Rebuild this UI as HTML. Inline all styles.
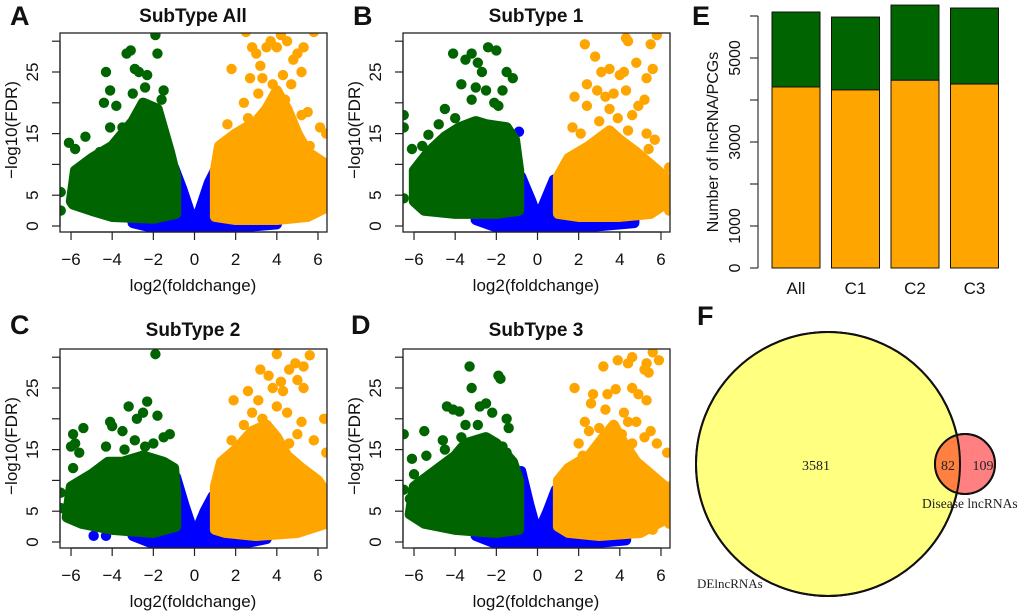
<!DOCTYPE html>
<html><head><meta charset="utf-8"><style>
body{margin:0;background:#fff}
svg{display:block;font-family:"Liberation Sans",Arial,sans-serif}
</style></head><body>
<svg id="fig" width="1020" height="616" viewBox="0 0 1020 616">
<defs id="defs"></defs>
</svg>
<script>
// ---------- Volcano data (log2FC, -log10FDR) ----------
const titles = ["SubType All","SubType 1","SubType 2","SubType 3"];
const letters = ["A","B","C","D"];
const xTicks = [-6,-4,-2,0,2,4,6];
const yTicks = [0,5,10,15,20,25,30];
const yTickLabels = ["0","5","","15","","25",""];

const blueHullA = [[-3,0.5],[-1,1],[-1,9.5],[-0.6,6],[-0.2,2],[0,0.6],[0.2,2],[0.7,7],[1,9],[1.1,2],[3,1],[4,1.5],[4,0.3],[2,-0.3],[-2,-0.3]];
const greenHullA = [[-6,4],[-5.8,9],[-5,11],[-4,13],[-3,17],[-2.5,20],[-1.8,19],[-1.2,12],[-0.9,8],[-0.9,2],[-2,1.2],[-4,1.5],[-5,2.5],[-5.9,3.5]];
const orangeHullA = [[1,1.5],[1,9],[1.2,13],[2,15],[3,17],[3.5,19],[4,22],[4.5,19],[5,15],[5.5,12],[6.4,10],[6.4,3],[5.5,1.5],[4,1],[2,1]];
const greenPtsA = [[-6.5,2.5],[-6.5,5.5],[-6.1,13.5],[-5.3,14.5],[-5.8,12.5],[-4.3,25],[-4.1,22],[-4.4,20],[-3.8,19.5],[-3.3,28],[-3.1,28.5],[-2.9,25.5],[-2.7,25],[-2.3,24.5],[-2.4,22.5],[-1.9,31],[-1.8,28],[-1.5,22],[-1.6,20.5],[-3,21.5],[-3.5,16],[-4.1,16],[-4.6,12],[-3.6,14.5],[-2.2,19.5]];
const orangePtsA = [[1.8,25.5],[2.4,20],[2.8,29],[3,28],[3.2,26],[3.5,29],[3.7,30],[4,29],[4.2,31],[4.5,30],[4.8,27],[5,28],[5.2,25],[5.3,29],[2.7,24],[3.3,24],[3.8,23],[4.3,24.5],[4.7,23],[5.5,18.5],[5.2,18],[6.1,16],[6.4,15],[5.6,13],[1.6,16.5],[2.1,14.5],[6.4,9],[6.5,7],[2.5,31.5],[5.8,31.5],[2.9,1.5],[3.8,1.5],[2.6,17.5],[4.4,20.5],[3.1,21.5]];
const bluePtsA = [];

const blueHullB = [[-3,1],[-1,1.5],[-0.8,8],[-0.3,4],[0,1.2],[0.3,3.5],[0.8,7.5],[1.2,8],[1.2,2],[3,1],[4.7,1.5],[4.7,0.5],[2,-0.3],[-2,-0.2]];
const greenHullB = [[-6,4],[-6,9],[-5.3,12],[-4.5,14.5],[-3.8,16],[-3,17],[-2.5,16.5],[-1.5,16],[-1.1,14],[-0.9,9],[-0.9,2.5],[-2,2],[-4,2],[-5.5,2.5]];
const orangeHullB = [[1,2],[1,8],[1.5,11],[2.5,13],[3.5,15.5],[4,14],[4.8,12],[5.5,10],[6.2,8],[6.4,4],[5.5,2],[4,1.5],[2,1.5]];
const greenPtsB = [[-6.5,18],[-6.5,16],[-6.5,4.5],[-6.1,12.5],[-5.6,13],[-5.3,14.8],[-4.8,16.5],[-4.5,19],[-4.1,28],[-3.7,23],[-3.5,27],[-3.2,28],[-2.9,26.5],[-2.7,25],[-2.4,29],[-2,28.5],[-1.5,25],[-1.2,24],[-1.7,22],[-2.5,22],[-3,22.5],[-3.2,20.5],[-2.1,20],[-1.9,19.5],[-4,17.5],[-3.4,15]];
const orangePtsB = [[2.3,29.5],[2.8,27.5],[3.1,25],[3.5,25.5],[4,24.5],[4.2,25],[4.4,30],[4.8,26.5],[5.3,24],[5.6,25.5],[5.5,29.5],[5.8,31],[2.4,23],[2.9,22],[1.8,21],[2.4,19.5],[3.3,21],[3.7,21.5],[3.5,19],[4.3,22],[4.9,19.5],[5.2,20.5],[4.6,18],[5.3,15],[5.7,14],[5.4,12.5],[6.4,9.5],[6.2,7],[6,5],[6.4,2.5],[1.7,16],[2.1,15],[3,17],[4.3,30.5],[3.9,17.5],[4.4,15.5]];
const bluePtsB = [[-0.9,15.3]];

const blueHullC = [[-3,1],[-1,1.5],[-0.9,10.5],[-0.5,6],[0,1],[0.5,5],[0.9,7.5],[1.1,6],[1.1,2],[3,1],[3.5,0.5],[2,-0.5],[-2,-0.3]];
const greenHullC = [[-6.2,4],[-6,9],[-5,11],[-4.2,13],[-3.5,13],[-2.5,14],[-1.5,13],[-1,12],[-0.9,8],[-0.9,2.5],[-2,1.5],[-4,2],[-5.5,3]];
const orangeHullC = [[1,2],[1,9],[1.3,13],[2,15],[2.8,18],[3.5,19],[4,17],[4.5,14],[5.2,12],[6,10],[6.4,8],[6.4,3],[5,1.5],[3,1],[1.5,1.5]];
const greenPtsC = [[-1.9,30.5],[-3.2,22],[-2.3,22.8],[-2.5,21],[-2.8,20],[-1.8,20.5],[-4.1,19.5],[-4,18.8],[-3.5,18],[-5.4,18.5],[-5.9,17.5],[-5.8,16],[-6,15.5],[-5.6,14.5],[-5.9,12],[-4.3,15.5],[-1.5,17],[-1.2,17.5],[-2,16],[-2.9,16.5],[-6.5,8],[-6.5,5.5],[-3.4,15],[-2.4,15.5]];
const orangePtsC = [[4,30.5],[5.6,30.3],[3.2,28],[3.6,27],[4.2,26],[4.6,28],[5.3,28.5],[4.9,29],[5,26.3],[5.3,25],[4.3,24.5],[3.8,25],[3.1,23],[2.6,24.5],[1.9,23],[2.4,19],[4,22],[4.5,21],[5.2,19.5],[6.3,20],[5,17.5],[5.8,16.5],[6.4,14.5],[1.8,16.5],[2.1,15.5],[6.4,7],[5.7,3],[6.2,5],[2.8,21],[4.6,16],[3.3,20]];
const bluePtsC = [[-4.9,1],[-4.3,1]];

const blueHullD = [[-3,1],[-1,1.5],[-0.8,11.5],[-0.4,6],[0,1.2],[0.5,5],[0.9,8.5],[1.2,8],[1.2,2],[3,1],[4.3,0.8],[4.3,0.3],[2,-0.4],[-2,-0.3]];
const greenHullD = [[-6.2,4.5],[-6,9],[-5,11.5],[-4,14],[-3.5,16],[-2.5,17],[-2,16],[-1.2,13],[-0.9,10],[-0.9,2],[-2,1.5],[-4,2],[-5.5,3]];
const orangeHullD = [[1,2.5],[1,10],[1.5,12],[2.5,14],[3.2,17],[3.7,19],[4.2,16],[4.8,13],[5.5,11],[6.2,9],[6.4,4],[5,1.5],[3,1],[1.5,1.5]];
const greenPtsD = [[-6.5,17.5],[-6.5,8.5],[-6.2,7],[-6.1,13.5],[-6,11],[-5.5,18],[-5.4,14],[-4.6,16.5],[-4.4,22],[-4.1,21.5],[-3.8,21.2],[-3.3,28.5],[-3.2,25],[-2.8,22],[-2.5,22.5],[-1.9,27],[-1.8,26.5],[-2.2,21],[-1.5,20],[-1.4,18.5],[-2.9,19],[-3.5,19],[-1.7,15.5],[-3.7,17],[-6,4.5],[-4.5,15],[-1.5,14.5]];
const orangePtsD = [[1.8,25],[3.2,28.5],[3.9,29.5],[4.4,29],[4.6,30],[5.3,29],[5.6,30.8],[5.9,29.5],[5.2,28],[5.4,27.5],[4.6,25],[4.9,24],[5.3,23],[3.4,24],[3.8,24.8],[2.7,24],[2.6,22.5],[3.3,21.5],[4.2,21],[4.4,19.5],[3,18.5],[2.3,19.5],[2.5,18],[4.8,19.5],[5.5,18],[5.2,17],[4.6,16],[5.8,16],[6.3,14.5],[6.4,9],[6.2,6],[6.4,3],[5.6,2],[2,16],[2.2,14],[4.1,17.5]];
const bluePtsD = [[4.2,0.6]];

// ---------- Bar data ----------
const barCats = ["All","C1","C2","C3"];
const upCounts = [4310,4240,4470,4380];      // orange
const totalCounts = [6095,5975,6260,6190];    // orange+green
const barTicks = [0,1000,2000,3000,4000,5000,6000];
const barTickLabels = ["0","1000","","3000","","5000",""];

// ---------- Venn data ----------
const vennLabels = ["3581","82","109"];
const vennSets = ["DElncRNAs","Disease lncRNAs"];

const NS="http://www.w3.org/2000/svg";
const svg=document.getElementById('fig');
const defs=document.getElementById('defs');
function mk(tag,attrs,parent){const e=document.createElementNS(NS,tag);for(const k in attrs)e.setAttribute(k,attrs[k]);(parent||svg).appendChild(e);return e;}
function txt(s,attrs,parent){const e=mk('text',attrs,parent);e.textContent=s;return e;}

const panels=[
 {dx:0,dy:0,bh:blueHullA,gh:greenHullA,oh:orangeHullA,gp:greenPtsA,op:orangePtsA,bp:bluePtsA},
 {dx:343,dy:0,bh:blueHullB,gh:greenHullB,oh:orangeHullB,gp:greenPtsB,op:orangePtsB,bp:bluePtsB},
 {dx:0,dy:316,bh:blueHullC,gh:greenHullC,oh:orangeHullC,gp:greenPtsC,op:orangePtsC,bp:bluePtsC},
 {dx:343,dy:316,bh:blueHullD,gh:greenHullD,oh:orangeHullD,gp:greenPtsD,op:orangePtsD,bp:bluePtsD}
];
const COL={g:"#006400",o:"#FFA500",b:"#0000FF"};
const R=5.2;
panels.forEach((p,i)=>{
 const xs=v=>194.5+v*20.58+p.dx;
 const ys=v=>226-v*6.16+p.dy;
 const g=mk('g',{});
 
 
 const cp=mk('clipPath',{id:'clip'+i},defs);
 mk('rect',{x:60+p.dx,y:33+p.dy,width:267,height:199},cp);
 const pg=mk('g',{'clip-path':'url(#clip'+i+')'},g);
 
 
 function hull(h,c,name){const el=mk('polygon',{points:h.map(q=>xs(q[0])+','+ys(q[1])).join(' '),fill:c,stroke:c,'stroke-width':2*R,'stroke-linejoin':'round'},pg);
  
  }
 function pts(a,c,name){a.forEach(q=>{const el=mk('circle',{cx:xs(q[0]),cy:ys(q[1]),r:R,fill:c},pg);
  
  });}
 hull(p.bh,COL.b,'not-significant-cluster');
 pts(p.bp,COL.b,'not-significant-point');
 hull(p.gh,COL.g,'down-regulated-cluster');
 pts(p.gp,COL.g,'down-regulated-point');
 hull(p.oh,COL.o,'up-regulated-cluster');
 pts(p.op,COL.o,'up-regulated-point');
 const fr=mk('rect',{x:60+p.dx,y:33+p.dy,width:267,height:199,fill:'none',stroke:'#222','stroke-width':1.3},g);
 
 
 mk('line',{x1:xs(-6),x2:xs(6),y1:232+p.dy,y2:232+p.dy,stroke:'#222','stroke-width':1.2},g);
 xTicks.forEach(t=>{mk('line',{x1:xs(t),x2:xs(t),y1:232+p.dy,y2:240+p.dy,stroke:'#222','stroke-width':1.2},g);
  const l=txt((t<0?'\u2212':'')+Math.abs(t),{x:xs(t),y:265+p.dy,'font-size':17,'text-anchor':'middle',fill:'#111'},g);
  
  });
 mk('line',{x1:60+p.dx,x2:60+p.dx,y1:ys(0),y2:ys(30),stroke:'#222','stroke-width':1.2},g);
 yTicks.forEach((t,k)=>{mk('line',{x1:52+p.dx,x2:60+p.dx,y1:ys(t),y2:ys(t),stroke:'#222','stroke-width':1.2},g);
  if(yTickLabels[k]){const l=txt(yTickLabels[k],{x:0,y:0,'font-size':17,'text-anchor':'middle',fill:'#111',transform:`translate(${38+p.dx},${ys(t)}) rotate(-90)`},g);
  
  }});
 const yt=txt('\u2212log10(FDR)',{x:0,y:0,'font-size':17,'text-anchor':'middle',fill:'#111',transform:`translate(${17+p.dx},${130+p.dy}) rotate(-90)`},g);
 
 
 const xt=txt('log2(foldchange)',{x:193+p.dx,y:291+p.dy,'font-size':17,'text-anchor':'middle',fill:'#111'},g);
 
 
 const tt=txt(titles[i],{x:193+p.dx,y:22+p.dy+(p.dy?-2:0),'font-size':19,'font-weight':'bold','text-anchor':'middle',fill:'#111'},g);
 
 
 const lt=txt(letters[i],{x:10+p.dx+(i==3?-2:0),y:25+p.dy-(p.dy?7:0),'font-size':27,'font-weight':'bold',fill:'#111'},g);
 
 
});

// ---------- Bar chart E ----------
(function(){
 const g=mk('g',{});
 
 
 const ys=v=>268-v*0.042;
 const bx=i=>772+i*59.5;
 const bw=48;
 barCats.forEach((c,i)=>{
  const gr=mk('rect',{x:bx(i),y:ys(totalCounts[i]),width:bw,height:ys(upCounts[i])-ys(totalCounts[i]),fill:'#006400',stroke:'#111','stroke-width':1},g);
  
  
  const or=mk('rect',{x:bx(i),y:ys(upCounts[i]),width:bw,height:ys(0)-ys(upCounts[i]),fill:'#FFA500',stroke:'#111','stroke-width':1},g);
  
  
  const l=txt(c,{x:bx(i)+bw/2,y:294,'font-size':17,'text-anchor':'middle',fill:'#111'},g);
  
  
 });
 mk('line',{x1:758,x2:758,y1:ys(0),y2:ys(6000),stroke:'#333','stroke-width':1.2},g);
 barTicks.forEach((t,k)=>{mk('line',{x1:750,x2:758,y1:ys(t),y2:ys(t),stroke:'#333','stroke-width':1.2},g);
  if(barTickLabels[k]){const l=txt(barTickLabels[k],{x:0,y:0,'font-size':16,'text-anchor':'middle',fill:'#111',transform:`translate(${740},${ys(t)}) rotate(-90)`},g);
  
  }});
 const yt=txt('Number of lncRNA/PCGs',{x:0,y:0,'font-size':16,'text-anchor':'middle',fill:'#111',transform:'translate(718,142) rotate(-90)'},g);
 
 
 const lt=txt('E',{x:692,y:25,'font-size':27,'font-weight':'bold',fill:'#111'},g);
 
 
})();

// ---------- Venn F ----------
(function(){
 const g=mk('g',{});
 
 
 const cp=mk('clipPath',{id:'bigclip'},defs);
 mk('circle',{cx:828,cy:464,r:132},cp);
 const big=mk('circle',{cx:828,cy:464,r:132,fill:'#FFFF80',stroke:'#111','stroke-width':2},g);
 
 
 const sm=mk('circle',{cx:965,cy:464,r:30,fill:'#FF8080',stroke:'#111','stroke-width':2},g);
 
 
 const ov=mk('circle',{cx:965,cy:464,r:30,fill:'#FF8040','clip-path':'url(#bigclip)'},g);
 
 
 mk('circle',{cx:828,cy:464,r:132,fill:'none',stroke:'#111','stroke-width':2},g);
 mk('circle',{cx:965,cy:464,r:30,fill:'none',stroke:'#111','stroke-width':2},g);
 const pos=[[816,470],[948,470],[983,470]];
 vennLabels.forEach((s,i)=>{const l=txt(s,{x:pos[i][0],y:pos[i][1],'font-size':14,'text-anchor':'middle',fill:'#222','font-family':'Liberation Serif,serif'},g);
  
  });
 const s1=txt(vennSets[0],{x:697,y:588,'font-size':13,fill:'#222','font-family':'Liberation Serif,serif'},g);
 
 
 const s2=txt(vennSets[1],{x:922,y:508,'font-size':13.5,fill:'#222','font-family':'Liberation Serif,serif'},g);
 
 
 const lt=txt('F',{x:697,y:325,'font-size':27,'font-weight':'bold',fill:'#111'},g);
 
 
})();
</script>
</body></html>
